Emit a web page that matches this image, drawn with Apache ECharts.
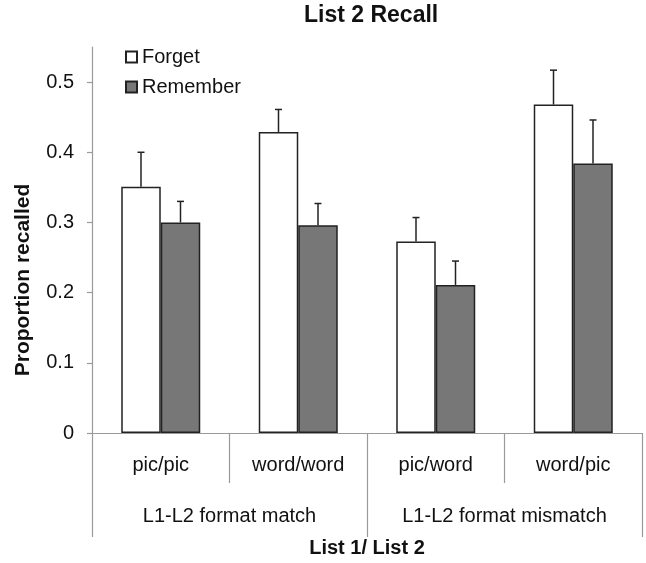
<!DOCTYPE html>
<html>
<head>
<meta charset="utf-8">
<script src="https://cdn.jsdelivr.net/npm/echarts@6/dist/echarts.min.js"></script>
<style>
  html, body { margin: 0; padding: 0; background: #fff; }
  #chart { width: 646px; height: 563px; }
</style>
</head>
<body>
<div id="chart"></div>
<script>
var categories = ['pic/pic', 'word/word', 'pic/word', 'word/pic'];
var groups = ['L1-L2 format match', 'L1-L2 format mismatch'];
var forget = [0.351, 0.429, 0.273, 0.468];
var forgetErr = [0.049, 0.032, 0.034, 0.049];
var remember = [0.300, 0.296, 0.211, 0.384];
var rememberErr = [0.030, 0.031, 0.034, 0.062];
var yTicks = [0, 0.1, 0.2, 0.3, 0.4, 0.5];

var font = '"Liberation Sans", Arial, sans-serif';
var barW = 39.5;

// upward-only error bars, drawn on top of each bar
function errSeries(name, vals, errs, side) {
  return {
    name: name,
    type: 'custom',
    xAxisIndex: 0,
    z: 5,
    silent: true,
    data: vals.map(function (v, i) { return [i, v, v + errs[i]]; }),
    renderItem: function (params, api) {
      var lo = api.coord([api.value(0), api.value(1)]);
      var hi = api.coord([api.value(0), api.value(2)]);
      var x = lo[0] + side * barW / 2;
      var st = { stroke: '#222', lineWidth: 1.5 };
      return {
        type: 'group',
        children: [
          { type: 'line', shape: { x1: x, y1: lo[1], x2: x, y2: hi[1] }, style: st },
          { type: 'line', shape: { x1: x - 3.5, y1: hi[1], x2: x + 3.5, y2: hi[1] }, style: st }
        ]
      };
    }
  };
}

var chart = echarts.init(document.getElementById('chart'));
chart.setOption({
  animation: false,
  textStyle: { fontFamily: font },
  title: {
    text: 'List 2 Recall',
    left: 304,
    top: 4,
    padding: 0,
    textStyle: { fontFamily: font, fontSize: 23, fontWeight: 'bold', color: '#111' }
  },
  legend: {
    data: ['Forget', 'Remember'],
    orient: 'vertical',
    left: 125,
    top: 47,
    padding: 0,
    itemWidth: 11,
    itemHeight: 11,
    itemGap: 10,
    icon: 'rect',
    textStyle: { fontFamily: font, fontSize: 20, color: '#111' }
  },
  graphic: [{
    type: 'text',
    x: 23,
    y: 280,
    rotation: Math.PI / 2,
    style: {
      text: 'Proportion recalled',
      x: 0, y: 0,
      textAlign: 'center',
      textVerticalAlign: 'middle',
      fontFamily: font,
      fontSize: 21,
      fontWeight: 'bold',
      fill: '#111'
    }
  }],
  grid: { left: 92, right: 4, top: 47, bottom: 130, containLabel: false },
  xAxis: [{
    type: 'category',
    data: categories,
    position: 'bottom',
    axisLine: { lineStyle: { color: '#9a9a9a', width: 1.2 } },
    axisTick: { show: true, interval: 0, length: 50, lineStyle: { color: '#9a9a9a', width: 1.2 } },
    axisLabel: { interval: 0, margin: 22, fontSize: 20, color: '#111', fontFamily: font }
  }, {
    type: 'category',
    data: groups,
    position: 'bottom',
    offset: 50,
    axisLine: { show: false },
    axisTick: { show: true, interval: 0, length: 54, lineStyle: { color: '#9a9a9a', width: 1.2 } },
    axisLabel: { interval: 0, margin: 23, fontSize: 20, color: '#111', fontFamily: font },
    name: 'List 1/ List 2',
    nameLocation: 'middle',
    nameGap: 55,
    nameTextStyle: { fontSize: 20, fontWeight: 'bold', color: '#111', fontFamily: font }
  }],
  yAxis: {
    type: 'value',
    min: 0,
    max: 0.55,
    interval: 0.05,
    axisLine: { show: true, lineStyle: { color: '#9a9a9a', width: 1.2 } },
    axisTick: { show: true, length: 5, customValues: yTicks, lineStyle: { color: '#9a9a9a', width: 1.2 } },
    axisLabel: { margin: 18, fontSize: 20, color: '#111', fontFamily: font, customValues: yTicks },
    splitLine: { show: false }
  },
  series: [{
    name: 'Forget',
    type: 'bar',
    data: forget,
    barWidth: barW,
    barGap: '0%',
    itemStyle: { color: '#ffffff', borderColor: '#222', borderWidth: 1.5 }
  }, {
    name: 'Remember',
    type: 'bar',
    data: remember,
    barWidth: barW,
    barGap: '0%',
    itemStyle: { color: '#777777', borderColor: '#222', borderWidth: 1.5 }
  },
  errSeries('errF', forget, forgetErr, -1),
  errSeries('errR', remember, rememberErr, 1)
  ]
});
</script>
</body>
</html>
